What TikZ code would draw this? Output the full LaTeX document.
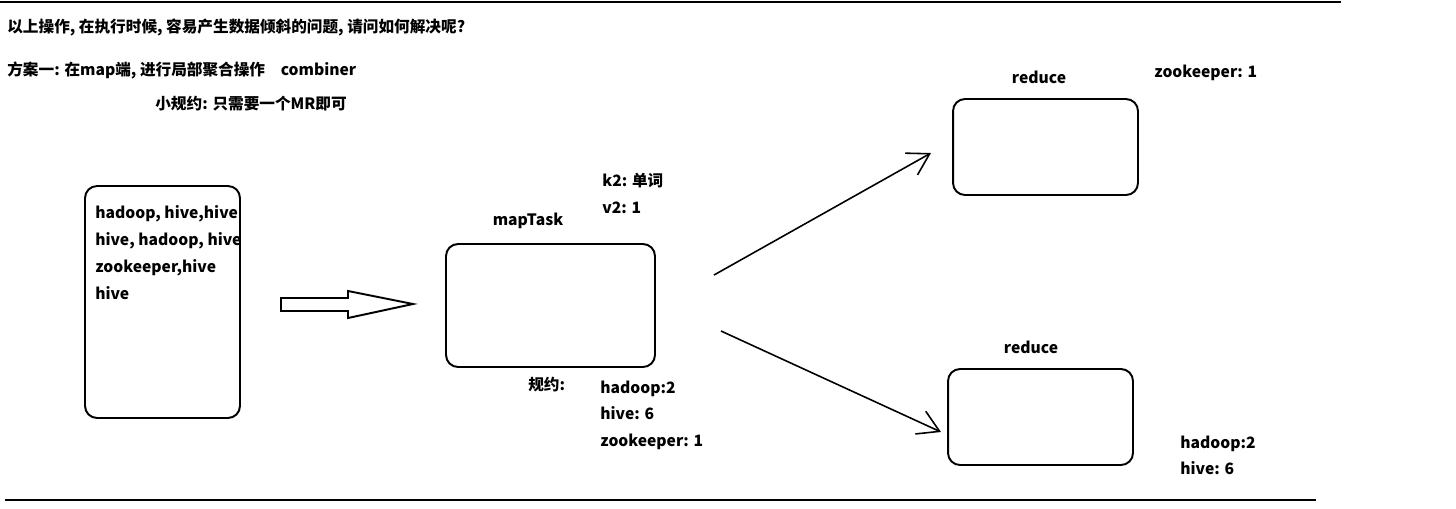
\documentclass[tikz,border=0pt]{standalone}
\usepackage{fontspec}
\setmainfont{Noto Sans CJK SC}
\usetikzlibrary{arrows.meta}
\usetikzlibrary{positioning}

\tikzset{
  box/.style={draw, line width=1.1pt, rounded corners=0.24cm},
  txt/.style={anchor=base west, inner sep=0pt, font=\bfseries\fontsize{8.9}{10}\selectfont},
  lbl/.style={inner sep=0pt, font=\bfseries\fontsize{8.9}{10}\selectfont},
  flow/.style={line width=0.9pt, ->, >={Straight Barb[length=0.42cm,width=0.5cm]}}
}

\begin{document}
\begin{tikzpicture}[x=0.02cm,y=-0.02cm]
\useasboundingbox (0,0) rectangle (1456,508);
% rules
\draw[line width=1.2pt] (0,2) -- (1341,2);
\draw[line width=1.2pt] (5,500) -- (1316,500);
% question
\node[txt] (q) at (7,32) {以上操作, 在执行时候, 容易产生数据倾斜的问题, 请问如何解决呢?};
\node[txt] (plan) at (7,75) {方案一: 在map端, 进行局部聚合操作\quad combiner};
\node[txt] (small) at (155,109) {小规约: 只需要一个MR即可};
% input
\node[box, minimum width=3.1cm, minimum height=4.64cm] (input) at (162.5,302) {};
\node[txt] (l1) at (95,218) {hadoop, hive,hive};
\node[txt] (l2) at (95,245) {hive, hadoop, hive};
\node[txt] (l3) at (95,272) {zookeeper,hive};
\node[txt] (l4) at (95,299) {hive};
% hollow arrow
\draw[line width=1.1pt] (281,298) -- (348,298) -- (348,291) -- (413,304)
  -- (348,318) -- (348,311) -- (281,311) -- cycle;
% map
\node[box, minimum width=4.18cm, minimum height=2.46cm] (map) at (550.5,305.5) {};
\node[lbl, above=0.28cm of map, xshift=-0.45cm] (mapname) {mapTask};
\node[txt] (k2) at (602,186) {k2: 单词};
\node[txt] (v2) at (602,213) {v2: 1};
\node[txt] (rule) at (528,390) {规约:};
\node[txt] (m1) at (600,393) {hadoop:2};
\node[txt] (m2) at (600,419) {hive: 6};
\node[txt] (m3) at (600,446) {zookeeper: 1};
% reduce
\node[box, minimum width=3.7cm, minimum height=1.92cm] (r1) at (1045.5,147) {};
\node[lbl, above=0.28cm of r1, xshift=-0.13cm] (r1name) {reduce};
\node[txt] (z1) at (1154,77) {zookeeper: 1};
\node[box, minimum width=3.7cm, minimum height=1.92cm] (r2) at (1040.5,417) {};
\node[lbl, above=0.28cm of r2, xshift=-0.19cm] (r2name) {reduce};
\node[txt] (h1) at (1180,448) {hadoop:2};
\node[txt] (h2) at (1180,474) {hive: 6};
% shuffle
\coordinate (s1) at (714,275);
\coordinate (e1) at (931,153);
\coordinate (s2) at (721,331);
\coordinate (e2) at (941,432);
\draw[flow] (s1) -- (e1);
\draw[flow] (s2) -- (e2);
\end{tikzpicture}
\end{document}
